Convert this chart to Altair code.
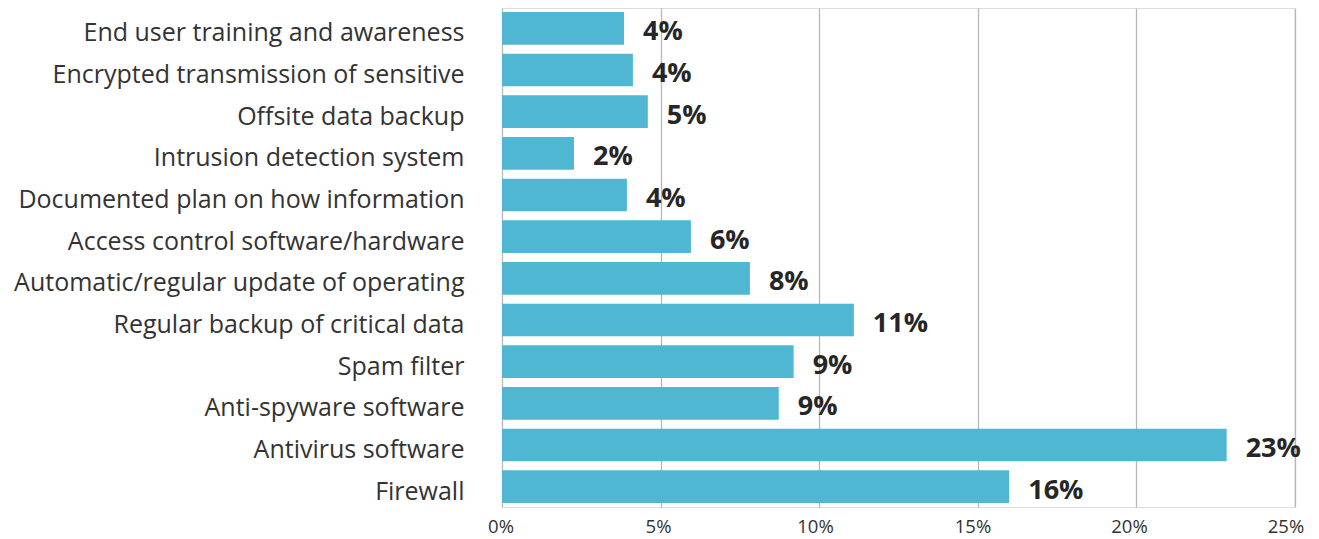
import altair as alt
import pandas as pd

categories = [
    "End user training and awareness",
    "Encrypted transmission of sensitive",
    "Offsite data backup",
    "Intrusion detection system",
    "Documented plan on how information",
    "Access control software/hardware",
    "Automatic/regular update of operating",
    "Regular backup of critical data",
    "Spam filter",
    "Anti-spyware software",
    "Antivirus software",
    "Firewall",
]
values = [3.85, 4.13, 4.6, 2.27, 3.94, 5.96, 7.82, 11.1, 9.2, 8.73, 22.86, 16.0]
labels = ["4%", "4%", "5%", "2%", "4%", "6%", "8%", "11%", "9%", "9%", "23%", "16%"]

df = pd.DataFrame({"cat": categories, "val": values, "lab": labels})

FONT = "Open Sans"

y = alt.Y("cat:N", sort=categories, title=None,
          scale=alt.Scale(paddingInner=0.216, paddingOuter=0.096),
          axis=alt.Axis(labelFontSize=25, labelColor="#333333", labelFont=FONT,
                        labelPadding=38, labelLimit=700, ticks=False, domain=False,
                        labelOffset=5, grid=False))
x = alt.X("val:Q", title=None,
          scale=alt.Scale(domain=[0, 25], nice=False),
          axis=alt.Axis(values=[0, 5, 10, 15, 20, 25],
                        labelExpr="datum.value + '%'", labelFlush=False,
                        labelFontSize=18.5, labelColor="#333333", labelFont=FONT,
                        labelOffset={"condition": [
                            {"test": "datum.value >= 25", "value": -9},
                            {"test": "datum.value >= 20", "value": -7},
                            {"test": "datum.value >= 15", "value": -5},
                            {"test": "datum.value >= 10", "value": -4},
                            {"test": "datum.value >= 5", "value": -2.5}],
                            "value": -1.5},
                        ticks=False, domain=False, labelPadding=10,
                        grid=True, gridColor="#b8b8b8", gridWidth=1.3))

bars = alt.Chart(df).mark_bar(color="#50B7D2").encode(x=x, y=y)
text = alt.Chart(df).mark_text(align="left", baseline="middle", dx=19, dy=4,
                               fontSize=27, fontWeight="bold", font=FONT,
                               color="#262626").encode(
    x=alt.X("val:Q"), y=alt.Y("cat:N", sort=categories), text="lab:N")

chart = (bars + text).properties(
    width=792.5, height=499,
    autosize=alt.AutoSizeParams(type="none"),
    padding={"left": 494, "top": 0, "right": 16, "bottom": 31},
).configure_view(stroke=None).configure(background="white")

chart.save("out.html", embed_options={"renderer": "svg", "actions": False})
